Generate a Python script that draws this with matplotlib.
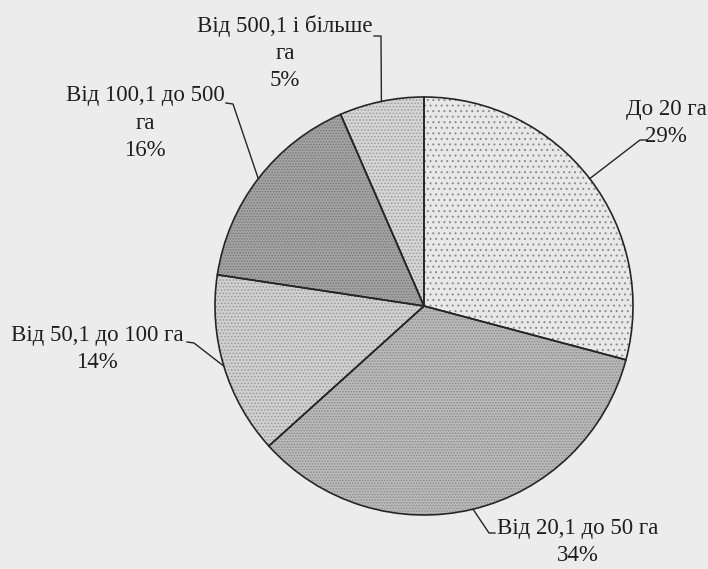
import numpy as np
import matplotlib.pyplot as plt

# farm size groups and their shares
labels = ["До 20 га", "Від 20,1 до 50 га", "Від 50,1 до 100 га",
          "Від 100,1 до 500\nга", "Від 500,1 і більше\nга"]
pct_text = ["29%", "34%", "14%", "16%", "5%"]
# slice sizes as drawn in the original (last slice is drawn a bit wider than its label)
shares = [29, 34, 14, 16, 6.5]

# styling
face = ["#e8e8e8", "#bababa", "#d0d0d0", "#a4a4a4", "#d5d5d5"]
dot_col = ["#8a8a8a", "#8a8a8a", "#999999", "#777777", "#9c9c9c"]
hatches = ["...", "......", ".....", "......", "....."]

# label layout (pixel coords, y from top)
text_xy = [(666, 123), (578, 542), (97, 349), (145, 123), (285, 53)]
line_start = [(647, 140), (495, 533), (187, 342), (226, 103), (374, 36)]
line_elbow = [(640, 140), (489, 533), (194, 343), (233, 104), (381, 36)]

W, H = 708, 569
plt.rcParams['font.family'] = ['Liberation Serif', 'DejaVu Serif']
plt.rcParams['hatch.linewidth'] = 0.7

fig = plt.figure(figsize=(W / 100, H / 100), dpi=100, facecolor="#ececec")
ax = fig.add_axes([0, 0, 1, 1])
ax.set_facecolor("#ececec")

cx, cy, r = 424, H - 306, 209

# fills with dot texture
wedges, _ = ax.pie(shares, startangle=90, counterclock=False,
                   center=(cx, cy), radius=r, frame=True,
                   wedgeprops=dict(linewidth=0))
for w, fc, dc, h in zip(wedges, face, dot_col, hatches):
    w.set_facecolor(fc)
    w.set_edgecolor(dc)
    w.set_hatch(h)

# outlines on top
ax.pie(shares, startangle=90, counterclock=False, center=(cx, cy), radius=r,
       frame=True, wedgeprops=dict(fill=False, edgecolor="#262626", linewidth=1.2))

ax.set_xlim(0, W)
ax.set_ylim(0, H)
ax.set_aspect('equal')
ax.axis('off')

for i, w in enumerate(wedges):
    ang = np.deg2rad((w.theta1 + w.theta2) / 2)
    ax_pt = (cx + r * np.cos(ang), cy + r * np.sin(ang))
    xs = [line_start[i][0], line_elbow[i][0], ax_pt[0]]
    ys = [H - line_start[i][1], H - line_elbow[i][1], ax_pt[1]]
    ax.plot(xs, ys, color="#262626", linewidth=1.0)
    tx, ty = text_xy[i]
    ax.text(tx, H - ty, labels[i] + "\n" + pct_text[i], ha='center', va='center',
            multialignment='center', fontsize=16.5, color="#1e1e1e", linespacing=1.4)

fig.savefig("out.png", dpi=100, facecolor=fig.get_facecolor())
